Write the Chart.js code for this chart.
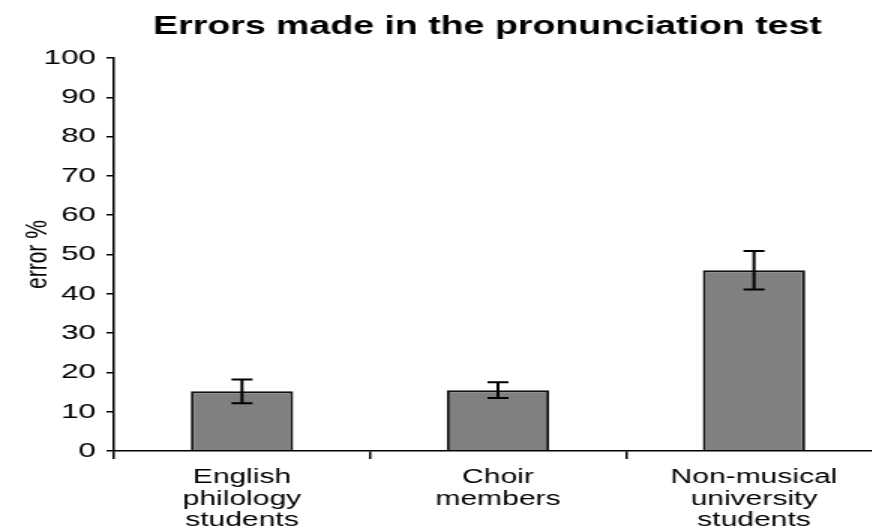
<!DOCTYPE html>
<html>
<head>
<meta charset="utf-8">
<script src="https://cdn.jsdelivr.net/npm/chart.js@4/dist/chart.umd.min.js"></script>
<style>
  html, body { margin: 0; padding: 0; background: #fff; overflow: hidden; }
  #frame { width: 872px; height: 531px; overflow: hidden; }
  #chart { display: block; }
</style>
</head>
<body>
<!-- the drawing is laid out narrow and widened by CSS for the broad lettering -->
<div id="frame"><canvas id="chart" width="650" height="539" style="width:975px;height:539px"></canvas></div>
<script>
const categories = [
  ['English', 'philology', 'students'],
  ['Choir', 'members'],
  ['Non-musical', 'university', 'students']
];
const errorPercent = [15.2, 15.5, 46];
const errorSpread = [3, 2, 4.9];
const yTickValues = [0, 10, 20, 30, 40, 50, 60, 70, 80, 90, 100];

const FONT = 'Liberation Sans, Arial, Helvetica, sans-serif';

// whiskers: mean ± spread, drawn through the value scale
const errorBars = {
  id: 'errorBars',
  afterDatasetsDraw(chart) {
    const ctx = chart.ctx;
    const y = chart.scales.y;
    const meta = chart.getDatasetMeta(0);
    ctx.save();
    ctx.strokeStyle = '#000';
    ctx.lineWidth = 2;
    meta.data.forEach((bar, i) => {
      const hi = y.getPixelForValue(errorPercent[i] + errorSpread[i]);
      const lo = y.getPixelForValue(errorPercent[i] - errorSpread[i]);
      const cap = 7;
      ctx.beginPath();
      ctx.moveTo(bar.x, hi); ctx.lineTo(bar.x, lo);
      ctx.moveTo(bar.x - cap, hi); ctx.lineTo(bar.x + cap, hi);
      ctx.moveTo(bar.x - cap, lo); ctx.lineTo(bar.x + cap, lo);
      ctx.stroke();
    });
    ctx.restore();
  }
};

new Chart(document.getElementById('chart'), {
  type: 'bar',
  data: {
    labels: categories,
    datasets: [{
      data: errorPercent,
      backgroundColor: '#808080',
      borderColor: '#111',
      borderWidth: 2,
      barPercentage: 0.4,
      categoryPercentage: 1
    }]
  },
  options: {
    responsive: false,
    devicePixelRatio: 1,
    animation: false,
    layout: { padding: { top: 10, left: 0, right: 0, bottom: 0 } },
    plugins: {
      legend: { display: false },
      tooltip: { enabled: false },
      title: {
        display: true,
        text: 'Errors made in the pronunciation test',
        color: '#000',
        font: { family: FONT, size: 25, weight: 'bold' },
        padding: { top: 2, bottom: 16 }
      }
    },
    scales: {
      x: {
        grid: { drawOnChartArea: false, drawTicks: true, tickLength: 8, color: '#000', lineWidth: 1.5, offset: true },
        border: { display: true, color: '#000', width: 1.5 },
        ticks: {
          color: '#000',
          padding: 8,
          maxRotation: 0,
          autoSkip: false,
          font: { family: FONT, size: 20, lineHeight: 1.065 }
        }
      },
      y: {
        min: 0,
        max: 100,
        afterBuildTicks(scale) { scale.ticks = yTickValues.map(v => ({ value: v })); },
        afterFit(scale) { scale.width = 76; },
        grid: { drawOnChartArea: false, drawTicks: true, tickLength: 5, color: '#000', lineWidth: 1.5 },
        border: { display: true, color: '#000', width: 1.5 },
        ticks: { color: '#000', padding: 7, font: { family: FONT, size: 21 } },
        title: {
          display: true,
          text: 'error %',
          color: '#000',
          font: { family: FONT, size: 21 },
          padding: { top: 13, bottom: 0 }
        }
      },
      // empty right-hand margin so the plot runs past the visible edge
      spacer: {
        type: 'linear',
        position: 'right',
        display: true,
        grid: { display: false },
        border: { display: false },
        ticks: { display: false },
        afterFit(scale) { scale.width = 62; }
      }
    }
  },
  plugins: [errorBars]
});
</script>
</body>
</html>
